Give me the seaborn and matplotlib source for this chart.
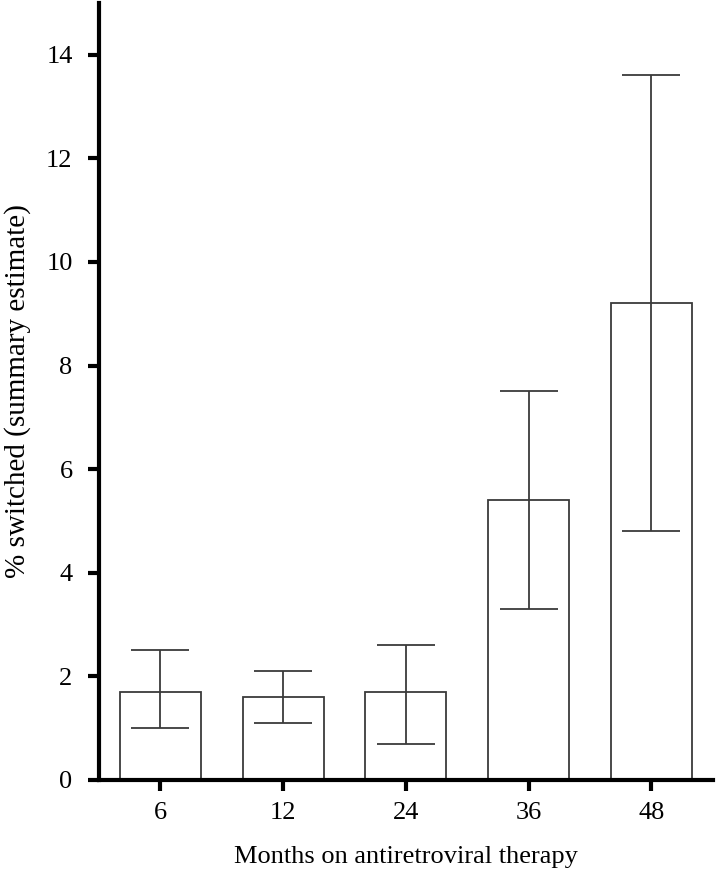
import matplotlib
matplotlib.use("Agg")
import matplotlib.pyplot as plt
import seaborn as sns
import pandas as pd
import numpy as np

# Summary estimates with 95% CI
months = ["6", "12", "24", "36", "48"]
pct_switched = [1.7, 1.6, 1.7, 5.4, 9.2]
ci_low = [1.0, 1.1, 0.7, 3.3, 4.8]
ci_high = [2.5, 2.1, 2.6, 7.5, 13.6]

df = pd.DataFrame({"Months": months, "Pct": pct_switched,
                   "Low": ci_low, "High": ci_high})

sns.set_style("ticks")
plt.rcParams["font.family"] = ["Liberation Serif", "DejaVu Serif"]

fig = plt.figure(figsize=(7.17, 8.74), dpi=100)
ax = fig.add_axes([0.138, 0.1076, 0.856, 0.889])

sns.barplot(data=df, x="Months", y="Pct", ax=ax, color="white",
            edgecolor="#3a3a3a", linewidth=1.3, width=0.66, errorbar=None)

yerr = np.array([df["Pct"] - df["Low"], df["High"] - df["Pct"]])
ax.errorbar(np.arange(len(df)), df["Pct"], yerr=yerr, fmt="none",
            ecolor="#3a3a3a", elinewidth=1.3, capsize=21, capthick=1.3)

ax.set_xlim(-0.5, 4.5)
ax.set_ylim(0, 15)
ax.set_yticks(np.arange(0, 15, 2))

for side in ["top", "right"]:
    ax.spines[side].set_visible(False)
for side in ["left", "bottom"]:
    ax.spines[side].set_linewidth(3)
    ax.spines[side].set_color("black")

ax.tick_params(axis="both", length=8, width=3, labelsize=19, color="black",
               labelcolor="black")
ax.tick_params(axis="x", pad=8)
ax.tick_params(axis="y", pad=11)
ax.set_xlabel("Months on antiretroviral therapy", fontsize=19, labelpad=16,
              color="black")
ax.set_ylabel("% switched (summary estimate)", fontsize=21, labelpad=11,
              color="black")

fig.savefig("out.png", dpi=100)
